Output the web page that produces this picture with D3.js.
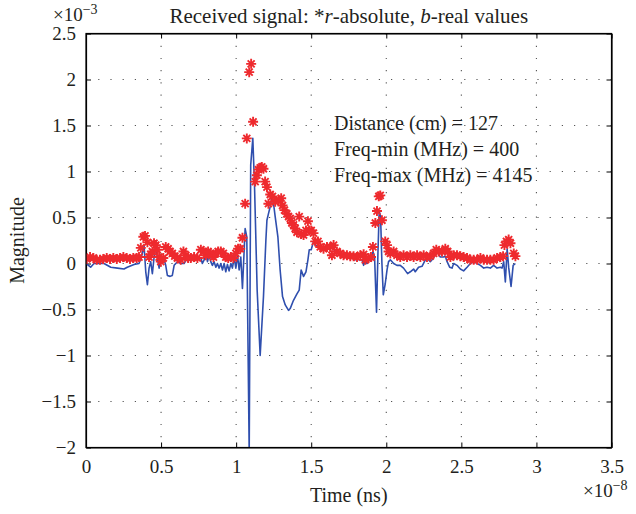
<!DOCTYPE html>
<html>
<head>
<meta charset="utf-8">
<script src="https://cdn.jsdelivr.net/npm/d3@7"></script>
<style>
  body { margin: 0; background: #fff; }
  text { font-family: "Liberation Serif", "DejaVu Serif", serif; fill: #231f20; }
</style>
</head>
<body>
<svg id="chart"></svg>
<script>
// Time values are in units of 1e-8 s, magnitudes in units of 1e-3
const x_ticks = [0, 0.5, 1, 1.5, 2, 2.5, 3, 3.5];
const y_ticks = [-2, -1.5, -1, -0.5, 0, 0.5, 1, 1.5, 2, 2.5];

// Real part (blue line)
const real_time = [0.000, 0.031, 0.053, 0.120, 0.165, 0.209, 0.253, 0.275, 0.320, 0.353,
    0.369, 0.387, 0.398, 0.409, 0.420, 0.431, 0.442, 0.453, 0.465, 0.475,
    0.487, 0.502, 0.520, 0.531, 0.542, 0.560, 0.575, 0.587, 0.609, 0.631,
    0.653, 0.675, 0.698, 0.720, 0.742, 0.765, 0.775, 0.787, 0.798, 0.809,
    0.820, 0.831, 0.842, 0.853, 0.865, 0.875, 0.887, 0.898, 0.909, 0.920,
    0.931, 0.942, 0.953, 0.965, 0.975, 0.987, 0.998, 1.009, 1.020, 1.031,
    1.042, 1.060, 1.071, 1.087, 1.097, 1.111, 1.122, 1.140, 1.160, 1.182,
    1.198, 1.205, 1.215, 1.227, 1.238, 1.249, 1.260, 1.278, 1.293, 1.309,
    1.327, 1.349, 1.360, 1.382, 1.405, 1.420, 1.433, 1.449, 1.465, 1.478,
    1.487, 1.500, 1.515, 1.527, 1.549, 1.571, 1.593, 1.615, 1.638, 1.649,
    1.660, 1.682, 1.705, 1.727, 1.749, 1.771, 1.793, 1.815, 1.838, 1.849,
    1.860, 1.871, 1.889, 1.900, 1.911, 1.922, 1.935, 1.945, 1.953, 1.962,
    1.971, 1.980, 1.993, 2.005, 2.015, 2.027, 2.049, 2.071, 2.093, 2.115,
    2.142, 2.160, 2.182, 2.193, 2.215, 2.238, 2.260, 2.271, 2.293, 2.315,
    2.338, 2.360, 2.382, 2.393, 2.405, 2.422, 2.438, 2.449, 2.471, 2.493,
    2.515, 2.538, 2.560, 2.582, 2.605, 2.627, 2.649, 2.671, 2.693, 2.715,
    2.738, 2.760, 2.771, 2.782, 2.793, 2.805, 2.815, 2.831, 2.845, 2.860];
const real_value = [0.00, -0.04, 0.00, 0.00, -0.04, -0.05, -0.06, -0.04, -0.01, 0.00,
    0.07, 0.19, -0.09, -0.23, -0.05, 0.02, -0.11, 0.06, 0.20, 0.06,
    -0.05, 0.07, 0.04, -0.02, -0.13, -0.14, -0.13, -0.02, 0.02, 0.00,
    0.00, 0.06, 0.04, 0.06, 0.04, 0.06, 0.00, 0.04, 0.15, 0.02,
    0.09, 0.02, -0.02, 0.02, -0.04, 0.00, -0.05, 0.00, -0.07, 0.00,
    -0.09, -0.01, -0.08, 0.00, -0.05, 0.06, -0.05, 0.09, -0.07, 0.07,
    -0.27, 0.38, 0.29, -2.05, 1.07, 1.36, 0.87, -0.29, -1.00, -0.36,
    0.25, 0.47, 0.54, 0.62, 0.71, 0.65, 0.51, 0.29, -0.07, -0.36,
    -0.45, -0.51, -0.49, -0.40, -0.33, -0.29, -0.07, -0.14, -0.09, 0.04,
    0.15, 0.15, 0.24, 0.20, 0.18, 0.16, 0.18, 0.16, 0.20, 0.16,
    0.13, 0.11, 0.09, 0.07, 0.07, 0.06, 0.04, 0.04, 0.04, -0.02,
    0.04, 0.00, 0.04, 0.03, 0.13, 0.07, -0.53, 0.15, 0.57, 0.51,
    0.00, -0.34, -0.22, -0.07, 0.02, 0.04, 0.00, -0.02, -0.02, -0.05,
    -0.11, -0.09, -0.06, -0.09, -0.04, -0.03, 0.04, 0.06, 0.02, 0.06,
    0.13, 0.07, 0.07, 0.08, 0.02, -0.04, -0.05, 0.00, -0.02, -0.06,
    -0.08, -0.04, 0.00, 0.02, 0.00, -0.02, -0.05, -0.04, -0.05, -0.02,
    -0.05, -0.04, -0.05, 0.02, -0.20, 0.16, -0.04, -0.25, -0.02, 0.00];

// Absolute value (red asterisks)
const abs_time = [0.005, 0.027, 0.049, 0.071, 0.093, 0.115, 0.138, 0.160, 0.182, 0.205,
    0.227, 0.249, 0.271, 0.293, 0.315, 0.338, 0.353, 0.365, 0.382, 0.393,
    0.409, 0.420, 0.431, 0.442, 0.453, 0.465, 0.475, 0.487, 0.498, 0.515,
    0.531, 0.547, 0.560, 0.575, 0.591, 0.609, 0.631, 0.649, 0.665, 0.680,
    0.698, 0.720, 0.742, 0.765, 0.782, 0.798, 0.813, 0.831, 0.849, 0.865,
    0.880, 0.898, 0.915, 0.931, 0.947, 0.965, 0.982, 0.998, 1.013, 1.027,
    1.042, 1.060, 1.071, 1.087, 1.100, 1.113, 1.127, 1.138, 1.149, 1.160,
    1.171, 1.182, 1.193, 1.205, 1.215, 1.227, 1.242, 1.260, 1.282, 1.300,
    1.309, 1.322, 1.338, 1.349, 1.360, 1.371, 1.382, 1.393, 1.405, 1.420,
    1.433, 1.449, 1.465, 1.478, 1.487, 1.500, 1.515, 1.527, 1.545, 1.560,
    1.582, 1.605, 1.627, 1.638, 1.649, 1.671, 1.693, 1.715, 1.738, 1.760,
    1.782, 1.805, 1.827, 1.849, 1.860, 1.882, 1.898, 1.911, 1.927, 1.938,
    1.950, 1.960, 1.971, 1.993, 2.005, 2.015, 2.027, 2.049, 2.071, 2.093,
    2.115, 2.138, 2.160, 2.182, 2.205, 2.227, 2.249, 2.271, 2.293, 2.315,
    2.333, 2.349, 2.371, 2.393, 2.409, 2.427, 2.449, 2.471, 2.493, 2.515,
    2.538, 2.560, 2.582, 2.605, 2.627, 2.649, 2.671, 2.693, 2.715, 2.738,
    2.760, 2.778, 2.787, 2.800, 2.815, 2.827, 2.849, 2.860];
const abs_value = [0.05, 0.07, 0.06, 0.04, 0.04, 0.05, 0.06, 0.05, 0.06, 0.05,
    0.06, 0.07, 0.06, 0.05, 0.06, 0.06, 0.07, 0.17, 0.29, 0.30,
    0.23, 0.07, 0.10, 0.13, 0.22, 0.20, 0.15, 0.07, 0.02, 0.06,
    0.18, 0.16, 0.13, 0.11, 0.08, 0.06, 0.04, 0.13, 0.09, 0.06,
    0.06, 0.07, 0.06, 0.15, 0.13, 0.09, 0.13, 0.11, 0.07, 0.11,
    0.13, 0.13, 0.11, 0.07, 0.06, 0.07, 0.06, 0.11, 0.16, 0.16,
    0.28, 0.65, 1.36, 2.08, 2.17, 1.54, 0.89, 0.96, 1.02, 1.04,
    1.05, 1.03, 0.89, 0.83, 0.65, 0.75, 0.73, 0.67, 0.69, 0.71,
    0.63, 0.58, 0.54, 0.51, 0.49, 0.44, 0.42, 0.38, 0.34, 0.51,
    0.32, 0.31, 0.36, 0.46, 0.36, 0.36, 0.33, 0.24, 0.24, 0.18,
    0.16, 0.18, 0.18, 0.09, 0.20, 0.13, 0.11, 0.09, 0.09, 0.08,
    0.08, 0.07, 0.09, 0.10, 0.04, 0.06, 0.07, 0.18, 0.44, 0.57,
    0.73, 0.74, 0.47, 0.24, 0.20, 0.13, 0.11, 0.13, 0.09, 0.07,
    0.09, 0.07, 0.09, 0.07, 0.09, 0.07, 0.09, 0.07, 0.08, 0.11,
    0.15, 0.13, 0.13, 0.16, 0.13, 0.07, 0.09, 0.09, 0.08, 0.07,
    0.06, 0.04, 0.04, 0.04, 0.06, 0.04, 0.04, 0.04, 0.04, 0.06,
    0.07, 0.08, 0.20, 0.24, 0.26, 0.22, 0.11, 0.08];

const info_lines = ["Distance (cm) = 127", "Freq-min (MHz) = 400", "Freq-max (MHz) = 4145"];

// Chart geometry
const width = 636, height = 514;
const margins = { top: 33.5, right: 24.5, bottom: 66.5, left: 86 };
const chart_width = width - margins.left - margins.right;
const chart_height = height - margins.top - margins.bottom;

const x_scale = d3.scaleLinear().domain([0, 3.5]).range([0, chart_width]);
const y_scale = d3.scaleLinear().domain([-2, 2.5]).range([chart_height, 0]);

const svg = d3.select("#chart")
    .attr("width", width)
    .attr("height", height);

svg.append("defs").append("clipPath")
    .attr("id", "plot-clip")
    .append("rect")
    .attr("width", chart_width)
    .attr("height", chart_height);

const plot = svg.append("g")
    .attr("transform", `translate(${margins.left}, ${margins.top})`);

// Dotted grid
plot.append("g")
    .selectAll("line")
    .data(x_ticks.slice(1, -1))
    .enter()
    .append("line")
    .attr("x1", d => x_scale(d)).attr("x2", d => x_scale(d))
    .attr("y1", 0).attr("y2", chart_height)
    .attr("stroke", "#555")
    .attr("stroke-width", 1.1)
    .attr("stroke-dasharray", "1.2,11");
plot.append("g")
    .selectAll("line")
    .data(y_ticks.slice(1, -1))
    .enter()
    .append("line")
    .attr("x1", 0).attr("x2", chart_width)
    .attr("y1", d => y_scale(d)).attr("y2", d => y_scale(d))
    .attr("stroke", "#555")
    .attr("stroke-width", 1.1)
    .attr("stroke-dasharray", "1.2,11");

// Axes with inward ticks on all four sides
const fmt = d => String(d).replace("-", "\u2212");
const x_bottom = plot.append("g")
    .attr("transform", `translate(0, ${chart_height})`)
    .call(d3.axisBottom(x_scale).tickValues(x_ticks).tickSizeInner(-5).tickSizeOuter(0).tickPadding(12).tickFormat(fmt));
const x_top = plot.append("g")
    .call(d3.axisTop(x_scale).tickValues(x_ticks).tickSizeInner(-5).tickSizeOuter(0).tickFormat(""));
const y_left = plot.append("g")
    .call(d3.axisLeft(y_scale).tickValues(y_ticks).tickSizeInner(-5).tickSizeOuter(0).tickPadding(10).tickFormat(fmt));
const y_right = plot.append("g")
    .attr("transform", `translate(${chart_width}, 0)`)
    .call(d3.axisRight(y_scale).tickValues(y_ticks).tickSizeInner(-5).tickSizeOuter(0).tickFormat(""));

[x_bottom, x_top, y_left, y_right].forEach(g => {
    g.select(".domain").attr("stroke", "#000").attr("stroke-width", 1.2);
    g.selectAll(".tick line").attr("stroke", "#000");
    g.selectAll(".tick text")
        .style("font-family", "'Liberation Serif', serif")
        .style("font-size", "19px")
        .attr("fill", "#231f20");
});

// Real-value line
const line = d3.line()
    .x(d => x_scale(d[0]))
    .y(d => y_scale(d[1]));
plot.append("path")
    .datum(real_time.map((t, i) => [t, real_value[i]]))
    .attr("clip-path", "url(#plot-clip)")
    .attr("d", line)
    .attr("fill", "none")
    .attr("stroke", "#2f4fae")
    .attr("stroke-width", 1.6)
    .attr("stroke-linejoin", "round");

// Absolute-value asterisks
const star = "M-5,0L5,0M0,-5L0,5M-3.5,-3.5L3.5,3.5M-3.5,3.5L3.5,-3.5";
plot.append("g")
    .attr("clip-path", "url(#plot-clip)")
    .selectAll("path")
    .data(abs_time.map((t, i) => [t, abs_value[i]]))
    .enter()
    .append("path")
    .attr("transform", d => `translate(${x_scale(d[0])}, ${y_scale(d[1])})`)
    .attr("d", star)
    .attr("stroke", "#ee2a2e")
    .attr("stroke-width", 1.9)
    .attr("fill", "none");

// Frame
plot.append("rect")
    .attr("width", chart_width)
    .attr("height", chart_height)
    .attr("fill", "none")
    .attr("stroke", "#000")
    .attr("stroke-width", 1.2);

// Annotation text
plot.append("g")
    .selectAll("text")
    .data(info_lines)
    .enter()
    .append("text")
    .attr("x", 248)
    .attr("y", (d, i) => 96 + i * 26.2)
    .style("font-size", "20px")
    .text(d => d);

// Title with italic series letters
const title = svg.append("text")
    .attr("x", margins.left + chart_width / 2)
    .attr("y", 23)
    .attr("text-anchor", "middle")
    .style("font-size", "21px");
title.append("tspan").text("Received signal: *");
title.append("tspan").style("font-style", "italic").text("r");
title.append("tspan").text("-absolute, ");
title.append("tspan").style("font-style", "italic").text("b");
title.append("tspan").text("-real values");

// Exponent labels
function exponent_label(x, y, power) {
    const t = svg.append("text").attr("x", x).attr("y", y).style("font-size", "19px");
    t.append("tspan").text("\u00d710");
    t.append("tspan").attr("dy", -7).style("font-size", "14px").text("\u2212" + power);
}
exponent_label(53, 21, 3);
exponent_label(583, 497, 8);

// Axis titles
svg.append("text")
    .attr("x", margins.left + chart_width / 2)
    .attr("y", 502)
    .attr("text-anchor", "middle")
    .style("font-size", "20px")
    .text("Time (ns)");
svg.append("text")
    .attr("transform", `translate(24, ${margins.top + chart_height / 2}) rotate(-90)`)
    .attr("text-anchor", "middle")
    .style("font-size", "20px")
    .text("Magnitude");
</script>
</body>
</html>
